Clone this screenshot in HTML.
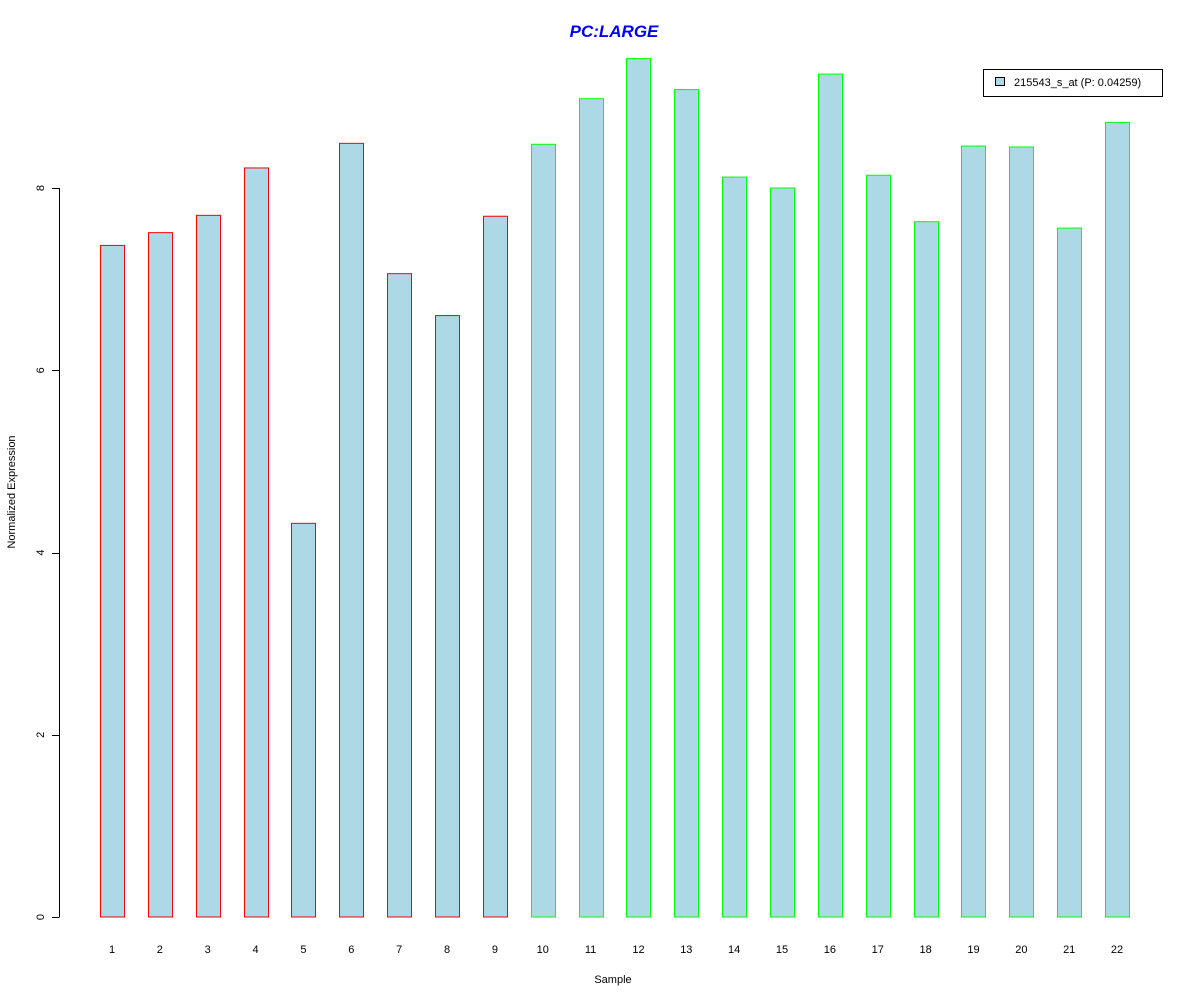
<!DOCTYPE html>
<html><head><meta charset="utf-8"><style>body{margin:0;background:#fff}svg{display:block}text{font-family:"Liberation Sans",sans-serif}</style></head>
<body>
<svg id="chart" width="1200" height="1000">
<text x="614" y="37" text-anchor="middle" font-size="17" font-weight="bold" font-style="italic" fill="#0000ff">PC:LARGE</text>
<text x="613" y="983" text-anchor="middle" font-size="11">Sample</text>
<text transform="translate(15,492) rotate(-90)" text-anchor="middle" font-size="11">Normalized Expression</text>
<g id="yaxis"></g>
<g id="bars"></g>
<g>
<rect x="983.5" y="69.5" width="179" height="27" fill="#fff" stroke="#000"/>
<rect x="995.5" y="77.5" width="9" height="8" fill="#add8e6" stroke="#000"/>
<text x="1014" y="86" font-size="11">215543_s_at (P: 0.04259)</text>
</g>
</svg>
<script>
const categories = ["1","2","3","4","5","6","7","8","9","10","11","12","13","14","15","16","17","18","19","20","21","22"];
const values = [7.37,7.51,7.70,8.22,4.32,8.49,7.06,6.60,7.69,8.48,8.98,9.42,9.08,8.12,8.00,9.25,8.14,7.63,8.46,8.45,7.56,8.72];
const groups = ["red","red","red","red","red","red","red","red","red","green","green","green","green","green","green","green","green","green","green","green","green","green"];
const yTicks = [0,2,4,6,8];
const NS="http://www.w3.org/2000/svg";
const y = v => 917 - v*91.125;
const x = i => 112 + i*47.86;
const ya=document.getElementById('yaxis');
const ax=document.createElementNS(NS,'line');
ax.setAttribute('x1',59.5);ax.setAttribute('x2',59.5);ax.setAttribute('y1',y(0));ax.setAttribute('y2',y(8));ax.setAttribute('stroke','#000');


ya.appendChild(ax);
yTicks.forEach(t=>{
  const l=document.createElementNS(NS,'line');
  l.setAttribute('x1',52);l.setAttribute('x2',59.5);l.setAttribute('y1',Math.round(y(t))+0.5);l.setAttribute('y2',Math.round(y(t))+0.5);l.setAttribute('stroke','#000');
  
  
  ya.appendChild(l);
  const tx=document.createElementNS(NS,'text');
  tx.setAttribute('transform',`translate(44,${y(t)}) rotate(-90)`);tx.setAttribute('text-anchor','middle');tx.setAttribute('font-size','11');
  tx.textContent=t;
  
  
  ya.appendChild(tx);
});
const bg=document.getElementById('bars');
categories.forEach((c,i)=>{
  const r=document.createElementNS(NS,'rect');
  const top=y(values[i]);
  r.setAttribute('x',Math.round(x(i)-12)+0.5);r.setAttribute('y',top);r.setAttribute('width',24);r.setAttribute('height',y(0)-top);
  r.setAttribute('fill','#add8e6');r.setAttribute('stroke',groups[i]==='red'?'#ff0000':'#00ff00');
  
  
  bg.appendChild(r);
  const t=document.createElementNS(NS,'text');
  t.setAttribute('x',x(i));t.setAttribute('y',953);t.setAttribute('text-anchor','middle');t.setAttribute('font-size','11');
  t.textContent=c;
  
  
  bg.appendChild(t);
});
</script>
</body></html>
